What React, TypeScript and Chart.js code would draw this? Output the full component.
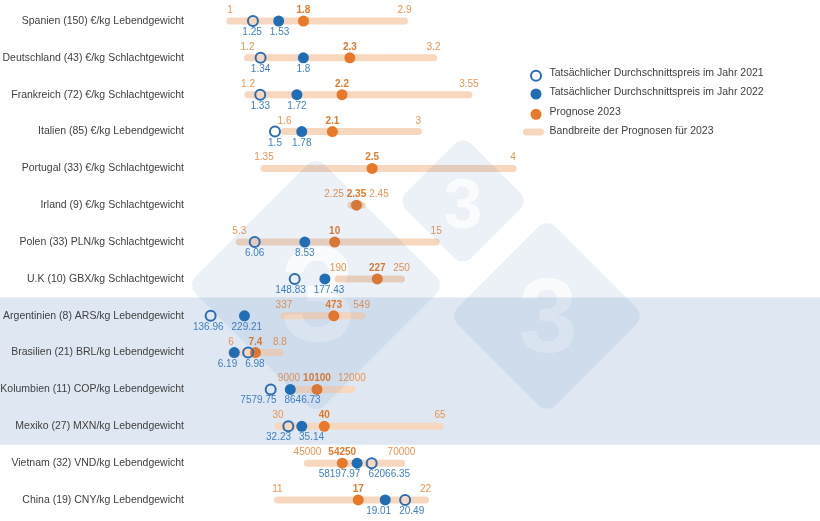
import React, { useEffect, useRef } from "react";
import { Chart, registerables } from "chart.js";

Chart.register(...registerables);

// ---------- data ----------
const rowLabels = [
  "Spanien (150) €/kg Lebendgewicht",
  "Deutschland (43) €/kg Schlachtgewicht",
  "Frankreich (72) €/kg Schlachtgewicht",
  "Italien (85) €/kg Lebendgewicht",
  "Portugal (33) €/kg Schlachtgewicht",
  "Irland (9) €/kg Schlachtgewicht",
  "Polen (33) PLN/kg Schlachtgewicht",
  "U.K (10) GBX/kg Schlachtgewicht",
  "Argentinien (8) ARS/kg Lebendgewicht",
  "Brasilien (21) BRL/kg Lebendgewicht",
  "Kolumbien (11) COP/kg Lebendgewicht",
  "Mexiko (27) MXN/kg Lebendgewicht",
  "Vietnam (32) VND/kg Lebendgewicht",
  "China (19) CNY/kg Lebendgewicht",
];

const price2021: (number | null)[] = [1.25, 1.34, 1.33, 1.5, null, null, 6.06, 148.83, 136.96, 6.98, 7579.75, 32.23, 62066.35, 20.49];
const price2022: (number | null)[] = [1.53, 1.8, 1.72, 1.78, null, null, 8.53, 177.43, 229.21, 6.19, 8646.73, 35.14, 58197.97, 19.01];
const forecast2023 = [1.8, 2.3, 2.2, 2.1, 2.5, 2.35, 10, 227, 473, 7.4, 10100, 40, 54250, 17];
const rangeMin = [1, 1.2, 1.2, 1.6, 1.35, 2.25, 5.3, 190, 337, 6, 9000, 30, 45000, 11];
const rangeMax = [2.9, 3.2, 3.55, 3, 4, 2.45, 15, 250, 549, 8.8, 12000, 65, 70000, 22];

// each row has its own value axis (range of the row's scale)
const rowAxisMin = [0.565, 0.581, 0.583, 0.611, 0.563, -0.677, 2.873, 49.68, 80.64, 3.659, 3186.7, 10.994, 13766, 4.495];
const rowAxisMax = [7.421, 7.355, 7.285, 7.201, 7.265, 10.777, 33.907, 646.27, 1799.6, 39.659, 37481.7, 147.06, 181275, 51.335];

const shadedRows = [8, 11];

const legendItems = [
  "Tatsächlicher Durchschnittspreis im Jahr 2021",
  "Tatsächlicher Durchschnittspreis im Jahr 2022",
  "Prognose 2023",
  "Bandbreite der Prognosen für 2023",
];

// ---------- styles ----------
const FONT = "'Liberation Sans', Arial, sans-serif";
const ORANGE = "#e8782a";
const ORANGE_TEXT = "#eb9552";
const ORANGE_BOLD = "#e27a2a";
const BLUE = "#1f6db4";
const BLUE_RING = "#2c6cb0";
const BLUE_TEXT = "#3f7fc1";
const PEACH = "#f8d7bf";
const BAND = "#dfe8f2";
const TEXT = "#404040";

const bandPlugin = {
  id: "band",
  beforeDraw(chart: any) {
    const y = chart.scales.y;
    const top = y.getPixelForValue(shadedRows[0] - 0.5);
    const bottom = y.getPixelForValue(shadedRows[1] + 0.5);
    const ctx = chart.ctx;
    ctx.save();
    ctx.fillStyle = BAND;
    ctx.fillRect(0, top, chart.width, bottom - top);
    ctx.restore();
  },
};

const labelPlugin = {
  id: "valueLabels",
  afterDatasetsDraw(chart: any) {
    const ctx = chart.ctx;
    const yS = chart.scales.y;
    ctx.save();
    ctx.textAlign = "center";
    ctx.textBaseline = "alphabetic";
    rowLabels.forEach((_, i) => {
      const xs = chart.scales["x" + i];
      const cy = yS.getPixelForValue(i);
      const px = (v: number) => xs.getPixelForValue(v);

      const fTxt = String(forecast2023[i]);
      ctx.font = `bold 10px ${FONT}`;
      const fw = ctx.measureText(fTxt).width;
      const fx = px(forecast2023[i]);
      ctx.font = `10px ${FONT}`;
      const minTxt = String(rangeMin[i]);
      const maxTxt = String(rangeMax[i]);
      const mw = ctx.measureText(minTxt).width;
      const xw = ctx.measureText(maxTxt).width;
      let mx = px(rangeMin[i]);
      if (mx + mw / 2 > fx - fw / 2 - 3) mx = fx - fw / 2 - 3 - mw / 2;
      let xx = px(rangeMax[i]);
      if (xx - xw / 2 < fx + fw / 2 + 3) xx = fx + fw / 2 + 3 + xw / 2;
      const ay = cy - 8;
      ctx.fillStyle = ORANGE_TEXT;
      ctx.fillText(minTxt, mx, ay);
      ctx.fillText(maxTxt, xx, ay);
      ctx.font = `bold 10px ${FONT}`;
      ctx.fillStyle = ORANGE_BOLD;
      ctx.fillText(fTxt, fx, ay);

      ctx.font = `10px ${FONT}`;
      const below: { t: string; x: number; w: number }[] = [];
      [price2021[i], price2022[i]].forEach((v) => {
        if (v != null) {
          const t = String(v);
          below.push({ t, x: px(v), w: ctx.measureText(t).width });
        }
      });
      if (below.length === 2) {
        below.sort((a, b) => a.x - b.x);
        const [a, b] = below;
        const need = (a.w + b.w) / 2 + 8;
        if (b.x - a.x < need) {
          const mid = (a.x + b.x) / 2;
          a.x = mid - need / 2;
          b.x = mid + need / 2;
        }
      }
      ctx.fillStyle = BLUE_TEXT;
      below.forEach((b) => ctx.fillText(b.t, b.x, cy + 14));
    });
    ctx.restore();
  },
};

function diamondPath(c: CanvasRenderingContext2D, cx: number, cy: number, hd: number, r: number) {
  const s = hd * Math.SQRT2 * 1.04;
  const h = s / 2;
  c.save();
  c.translate(cx, cy);
  c.rotate(Math.PI / 4);
  c.beginPath();
  c.moveTo(-h + r, -h);
  c.arcTo(h, -h, h, h, r);
  c.arcTo(h, h, -h, h, r);
  c.arcTo(-h, h, -h, -h, r);
  c.arcTo(-h, -h, h, -h, r);
  c.closePath();
  c.fill();
  c.restore();
}

const overlayPlugin = {
  id: "overlay",
  afterDraw(chart: any) {
    const ctx: CanvasRenderingContext2D = chart.ctx;
    // legend
    ctx.save();
    const lx = 536;
    const ys = [75.7, 94, 114.3, 132];
    ctx.beginPath();
    ctx.arc(lx, ys[0], 5, 0, Math.PI * 2);
    ctx.strokeStyle = BLUE_RING;
    ctx.lineWidth = 2;
    ctx.stroke();
    ctx.beginPath();
    ctx.arc(lx, ys[1], 5.5, 0, Math.PI * 2);
    ctx.fillStyle = BLUE;
    ctx.fill();
    ctx.beginPath();
    ctx.arc(lx, ys[2], 5.5, 0, Math.PI * 2);
    ctx.fillStyle = ORANGE;
    ctx.fill();
    ctx.beginPath();
    ctx.moveTo(526.5, ys[3]);
    ctx.lineTo(540.5, ys[3]);
    ctx.lineWidth = 7;
    ctx.lineCap = "round";
    ctx.strokeStyle = PEACH;
    ctx.stroke();
    ctx.font = `10.5px ${FONT}`;
    ctx.fillStyle = TEXT;
    ctx.textAlign = "left";
    ctx.textBaseline = "alphabetic";
    const tys = [75.5, 94.8, 114.5, 133.8];
    legendItems.forEach((t, k) => ctx.fillText(t, 549.5, tys[k]));
    ctx.restore();

    // watermark
    const off = document.createElement("canvas");
    off.width = chart.width;
    off.height = chart.height;
    const c = off.getContext("2d")!;
    c.fillStyle = "rgba(70,120,190,0.10)";
    const marks = [
      { x: 316, y: 285, hd: 124, ty: 292, tx: 318, size: 135 },
      { x: 463, y: 201, hd: 63, ty: 203, tx: 463, size: 70 },
      { x: 547, y: 316, hd: 94, ty: 314, tx: 548, size: 106 },
    ];
    marks.forEach((m) => diamondPath(c, m.x, m.y, m.hd, 12));
    c.globalCompositeOperation = "destination-out";
    c.textAlign = "center";
    c.textBaseline = "alphabetic";
    c.fillStyle = "rgba(0,0,0,0.75)";
    marks.forEach((m) => {
      c.font = `bold ${m.size}px ${FONT}`;
      c.fillText("3", m.tx, m.ty + 0.358 * m.size);
    });
    ctx.drawImage(off, 0, 0);
  },
};

export default function App() {
  const ref = useRef<HTMLCanvasElement>(null);
  useEffect(() => {
    const canvas = ref.current!;
    const datasets: any[] = [];
    const scales: any = {
      y: {
        type: "category",
        labels: rowLabels,
        offset: true,
        grid: { display: false, drawTicks: false },
        border: { display: false },
        ticks: { font: { family: FONT, size: 10.5 }, color: TEXT, padding: 6, autoSkip: false },
        afterFit: (s: any) => {
          s.width = 190;
          s.paddingTop = 0;
          s.paddingBottom = 0;
        },
      },
    };
    rowLabels.forEach((lab, i) => {
      const xAxisID = "x" + i;
      scales[xAxisID] = {
        type: "linear",
        axis: "x",
        position: "bottom",
        display: false,
        min: rowAxisMin[i],
        max: rowAxisMax[i],
      };
      datasets.push({
        type: "line",
        data: [
          { x: rangeMin[i], y: lab },
          { x: rangeMax[i], y: lab },
        ],
        xAxisID,
        yAxisID: "y",
        borderColor: PEACH,
        borderWidth: 7,
        borderCapStyle: "round",
        pointRadius: 0,
        pointHoverRadius: 0,
        showLine: true,
        fill: false,
        clip: false,
        order: 2,
      });
      const pts: any[] = [];
      const bg: string[] = [];
      const bc: string[] = [];
      const bw: number[] = [];
      const rad: number[] = [];
      pts.push({ x: forecast2023[i], y: lab });
      bg.push(ORANGE);
      bc.push(ORANGE);
      bw.push(0);
      rad.push(5.5);
      if (price2021[i] != null) {
        pts.push({ x: price2021[i], y: lab });
        bg.push("rgba(0,0,0,0)");
        bc.push(BLUE_RING);
        bw.push(2);
        rad.push(5);
      }
      if (price2022[i] != null) {
        pts.push({ x: price2022[i], y: lab });
        bg.push(BLUE);
        bc.push(BLUE);
        bw.push(0);
        rad.push(5.5);
      }
      datasets.push({
        type: "line",
        data: pts,
        xAxisID,
        yAxisID: "y",
        showLine: false,
        pointRadius: rad,
        pointHoverRadius: rad,
        pointBackgroundColor: bg,
        pointBorderColor: bc,
        pointBorderWidth: bw,
        clip: false,
        order: 1,
      });
    });

    const chart = new Chart(canvas, {
      type: "line",
      data: { datasets },
      options: {
        animation: false,
        responsive: false,
        devicePixelRatio: 1,
        events: [],
        layout: { autoPadding: false, padding: { top: 2.6, bottom: 2.6, left: 0, right: 0 } },
        scales,
        plugins: { legend: { display: false }, tooltip: { enabled: false } },
      } as any,
      plugins: [bandPlugin, labelPlugin, overlayPlugin],
    });
    return () => chart.destroy();
  }, []);
  return (
    <canvas
      ref={ref}
      width={820}
      height={521}
      style={{ position: "absolute", left: 0, top: 0, width: 820, height: 521, display: "block" }}
    />
  );
}
